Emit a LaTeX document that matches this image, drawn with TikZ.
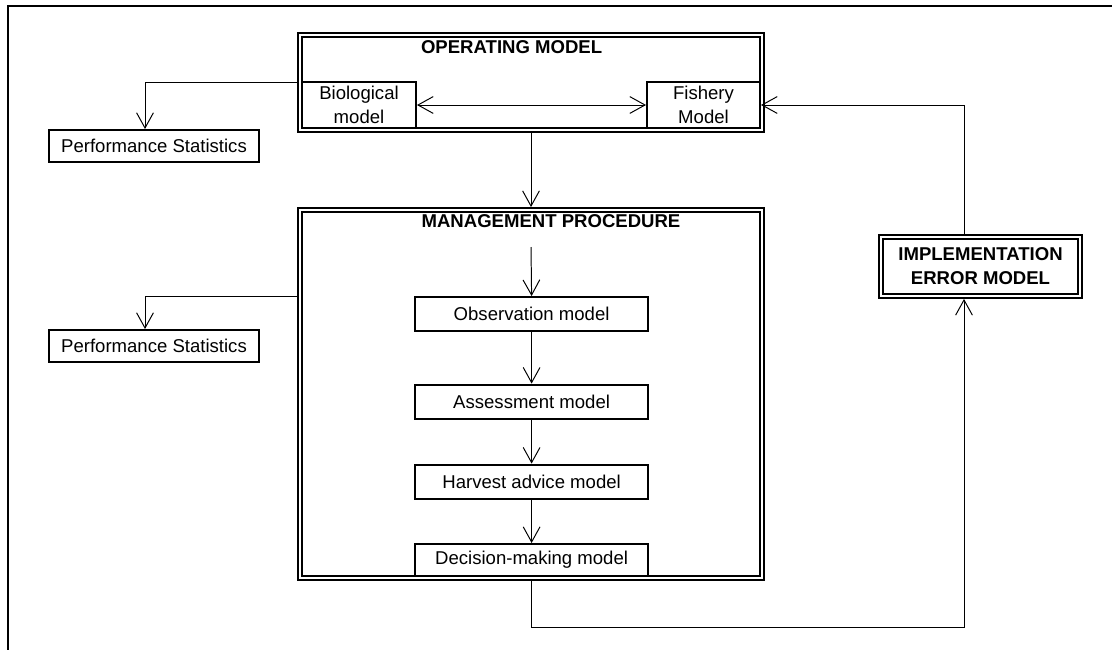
\documentclass[tikz,border=0pt]{standalone}
\usepackage{fontspec}
\setmainfont{Liberation Sans}
\usetikzlibrary{arrows.meta,positioning}

\begin{document}
\begin{tikzpicture}[
  >={Straight Barb[length=3.8mm,width=4.2mm]},
  font=\fontsize{13.2}{17}\selectfont,
  every path/.style={line width=0.7pt},
  frame/.style={draw, double, line width=1.4pt, double distance=1.4pt, outer sep=2.1pt, inner sep=0pt},
  stage/.style={draw, line width=1.4pt, minimum width=5.825cm, minimum height=0.85cm, inner sep=0pt},
  part/.style={draw, line width=1.4pt, minimum height=1.15cm, inner sep=0pt, align=center},
  stat/.style={draw, line width=1.4pt, minimum width=5.25cm, minimum height=0.8cm, inner sep=0pt},
  heading/.style={font=\fontsize{13.2}{17}\selectfont\bfseries, align=center}
]
\useasboundingbox (0,0) rectangle (27.8,-16.25);

% page frame (only top and left edge show)
\draw[line width=1.4pt] (27.8,-0.15) -- (0.2,-0.15) -- (0.2,-16.25);

% Operating model and its two parts
\node[frame, minimum width=11.55cm, minimum height=2.375cm] (opm) at (13.275, -2.0625) {};
\node[heading] (opmtitle) at (12.79, -1.19) {OPERATING MODEL};
\node[part, minimum width=2.85cm] (bio) at (8.975, -2.625) {Biological\\model};
\node[part, minimum width=2.825cm] (fish) at (17.5875, -2.625) {Fishery\\Model};

% Management procedure with its chain of models
\node[frame, minimum width=11.55cm, minimum height=9.2cm] (mp) at (13.275, -9.85) {};
\node[heading] (mptitle) at (13.775, -5.54) {MANAGEMENT PROCEDURE};
\coordinate (mptop) at (13.275, -6.175);

\node[stage] (obs) at (13.29, -7.85) {Observation model};
\node[stage] (assess) at (13.29, -10.04) {Assessment model};
\node[stage] (harvest) at (13.29, -12.04) {Harvest advice model};
\node[stage, minimum height=0.8cm] (decide) at (13.29, -14.0) {Decision-making model};

% Implementation error
\node[frame, minimum width=4.975cm, minimum height=1.475cm, heading] (impl) at (24.5125, -6.6625) {IMPLEMENTATION\\ERROR MODEL};

% Performance statistics
\node[stat] (ps1) at (3.85, -3.65) {Performance Statistics};
\node[stat] (ps2) at (3.85, -8.65) {Performance Statistics};

% Arcs
\draw[<->] (bio.east) -- (fish.west);
\draw[->] (opm.south) -- (mp.north);
\draw[->] (mptop) -- (obs.north);
\draw[->] (obs) -- (assess);
\draw[->] (assess) -- (harvest);
\draw[->] (harvest) -- (decide);

\draw[->] (opm.west) -| ([xshift=-0.225cm]ps1.north);
\draw[->] (mp.west |- 0,-7.4) -| ([xshift=-0.225cm]ps2.north);

% feedback loop through implementation error
\draw[->] (mp.south) |- (24.1,-15.675) -- (impl.south -| 24.1,0);
\draw[->] (impl.north -| 24.1,0) |- (fish.east);

\end{tikzpicture}
\end{document}
